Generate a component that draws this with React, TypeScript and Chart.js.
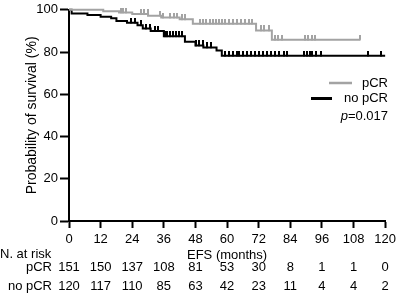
import React, { useEffect, useRef } from "react";
import { Chart, registerables } from "chart.js";

Chart.register(...registerables);

// ---- data ----
const xTicks = [0, 12, 24, 36, 48, 60, 72, 84, 96, 108, 120];
const groupNames = ["pCR", "no pCR"];
const riskPcr = [151, 150, 137, 108, 81, 53, 30, 8, 1, 1, 0];
const riskNoPcr = [120, 117, 110, 85, 63, 42, 23, 11, 4, 4, 2];
const pValueText = "=0.017";

// Kaplan-Meier step points (months, % surviving)
const pcrTimes = [0, 13, 19, 24, 30, 35, 42, 47, 71, 77];
const pcrSurv = [100, 99.3, 98.7, 98.0, 97.2, 96.3, 95.5, 93.4, 90.2, 85.8];
const pcrEnd = 110.4;
const pcrCensor = [
  19.7, 20.4, 21.6, 27.2, 28.3, 29.8, 34.7, 35.8, 38.4, 39.9, 41.1, 42.9, 44.1,
  49.7, 50.8, 51.9, 53.4, 54.6, 55.7, 56.8, 57.9, 59.4, 60.9, 62.4, 63.9, 65.4,
  66.9, 68.4, 69.6, 72.9, 74.0, 75.9, 78.2, 79.3, 80.8, 89.4, 90.6, 92.1, 93.2,
  110.4,
];

const noPcrTimes = [0, 1, 7, 12, 16, 18, 22, 26, 28, 31, 36, 44, 48, 51, 56, 58];
const noPcrSurv = [100, 98.3, 97.5, 96.7, 96.0, 94.7, 93.9, 92.7, 91.1, 90.0, 87.5, 84.9, 83.1, 82.2, 80.7, 78.2];
const noPcrEnd = 120;
const noPcrCensor = [
  23.4, 24.9, 27.2, 29.1, 30.9, 32.8, 33.9, 36.6, 37.3, 38.4, 39.6, 40.7, 41.8,
  42.9, 48.2, 49.3, 50.8, 52.3, 53.8, 59.4, 60.6, 62.1, 63.6, 64.7, 66.2, 67.7,
  69.2, 70.7, 72.2, 73.7, 75.2, 76.7, 78.2, 79.7, 81.6, 82.7, 89.1, 90.2, 91.3,
  92.4, 93.9, 95.8, 113.4, 118.3,
];

const GRAY = "#a3a3a3";
const BLACK = "#000000";
const FONT = '"Liberation Sans", Arial, Helvetica, sans-serif';

function stepValue(times: number[], vals: number[], t: number) {
  let v = vals[0];
  for (let i = 0; i < times.length; i++) if (times[i] <= t) v = vals[i];
  return v;
}
function curve(times: number[], vals: number[], end: number) {
  const pts = times.map((t, i) => ({ x: t, y: vals[i] }));
  pts.push({ x: end, y: vals[vals.length - 1] });
  return pts;
}
function censorPts(times: number[], vals: number[], cens: number[]) {
  return cens.map((t) => ({ x: t, y: stepValue(times, vals, t) }));
}
// upward censor tick (image is centred on the point, so the mark occupies the top half)
function tickImage(color: string) {
  const c = document.createElement("canvas");
  c.width = 2;
  c.height = 10;
  const g = c.getContext("2d")!;
  g.fillStyle = color;
  g.fillRect(0, 0, 2, 5.5);
  return c;
}

const overlay = {
  id: "overlay",
  afterDraw(chart: any) {
    const { ctx } = chart;
    const x = chart.scales.x;
    ctx.save();
    ctx.fillStyle = "#000";
    ctx.font = `13px ${FONT}`;
    ctx.textBaseline = "middle";
    ctx.textAlign = "left";
    ctx.fillText("N. at risk", 0, 254);
    ctx.textAlign = "right";
    ctx.fillText(groupNames[0], 52, 267.5);
    ctx.fillText(groupNames[1], 52, 286.5);
    ctx.textAlign = "center";
    xTicks.forEach((t, i) => {
      const px = x.getPixelForValue(t);
      ctx.fillText(String(riskPcr[i]), px, 267.5);
      ctx.fillText(String(riskNoPcr[i]), px, 286.5);
    });

    // legend
    ctx.textAlign = "right";
    ctx.lineCap = "butt";
    ctx.strokeStyle = GRAY;
    ctx.lineWidth = 2.5;
    ctx.beginPath();
    ctx.moveTo(329, 83);
    ctx.lineTo(352, 83);
    ctx.stroke();
    ctx.fillText(groupNames[0], 388, 83);
    ctx.strokeStyle = BLACK;
    ctx.lineWidth = 3;
    ctx.beginPath();
    ctx.moveTo(311, 98.5);
    ctx.lineTo(332, 98.5);
    ctx.stroke();
    ctx.fillText(groupNames[1], 388, 98.5);
    const w = ctx.measureText(pValueText).width;
    ctx.fillText(pValueText, 388, 116);
    ctx.font = `italic 13px ${FONT}`;
    ctx.fillText("p", 388 - w, 116);
    ctx.restore();
  },
};

export default function App() {
  const ref = useRef<HTMLCanvasElement>(null);
  useEffect(() => {
    if (!ref.current) return;
    const chart = new Chart(ref.current, {
      type: "line",
      data: {
        datasets: [
          {
            label: groupNames[0],
            data: curve(pcrTimes, pcrSurv, pcrEnd),
            borderColor: GRAY,
            borderWidth: 2,
            stepped: true,
            pointRadius: 0,
            fill: false,
            clip: false as any,
          },
          {
            label: groupNames[1],
            data: curve(noPcrTimes, noPcrSurv, noPcrEnd),
            borderColor: BLACK,
            borderWidth: 2,
            stepped: true,
            pointRadius: 0,
            fill: false,
            clip: false as any,
          },
          {
            label: "pCR censored",
            data: censorPts(pcrTimes, pcrSurv, pcrCensor),
            showLine: false,
            pointStyle: tickImage(GRAY) as any,
            pointRadius: 5,
            clip: false as any,
          },
          {
            label: "no pCR censored",
            data: censorPts(noPcrTimes, noPcrSurv, noPcrCensor),
            showLine: false,
            pointStyle: tickImage(BLACK) as any,
            pointRadius: 5,
            clip: false as any,
          },
        ],
      },
      options: {
        animation: false,
        responsive: true,
        maintainAspectRatio: false,
        layout: { padding: { top: 7, right: 12, left: 0, bottom: 0 } },
        plugins: { legend: { display: false }, tooltip: { enabled: false } },
        scales: {
          x: {
            type: "linear",
            min: 0,
            max: 120,
            afterBuildTicks: (s: any) => {
              s.ticks = xTicks.map((v) => ({ value: v }));
            },
            afterFit: (s: any) => {
              s.height = 75;
            },
            ticks: {
              color: "#000",
              font: { family: FONT, size: 13 },
              padding: 4,
              maxRotation: 0,
              autoSkip: false,
            },
            grid: {
              drawOnChartArea: false,
              drawTicks: true,
              tickLength: 7,
              tickWidth: 2,
              tickColor: "#000",
            },
            border: { display: true, width: 2, color: "#000" },
            title: {
              display: true,
              text: "EFS (months)",
              color: "#000",
              font: { family: FONT, size: 13 },
              padding: { top: 0, bottom: 32.7 },
            },
          },
          y: {
            type: "linear",
            min: 0,
            max: 100,
            ticks: {
              stepSize: 20,
              color: "#000",
              font: { family: FONT, size: 13 },
              padding: 2,
            },
            afterFit: (s: any) => {
              s.width = 69;
            },
            grid: {
              drawOnChartArea: false,
              drawTicks: true,
              tickLength: 9,
              tickWidth: 2,
              tickColor: "#000",
            },
            border: { display: true, width: 2, color: "#000" },
            title: {
              display: true,
              text: "Probability of survival (%)",
              color: "#000",
              font: { family: FONT, size: 14 },
              padding: { top: 23.6, bottom: 0 },
            },
          },
        },
      },
      plugins: [overlay],
    });
    return () => chart.destroy();
  }, []);
  return (
    <div style={{ position: "fixed", left: 0, top: 0, width: 400, height: 296, background: "#fff" }}>
      <canvas ref={ref} />
    </div>
  );
}
